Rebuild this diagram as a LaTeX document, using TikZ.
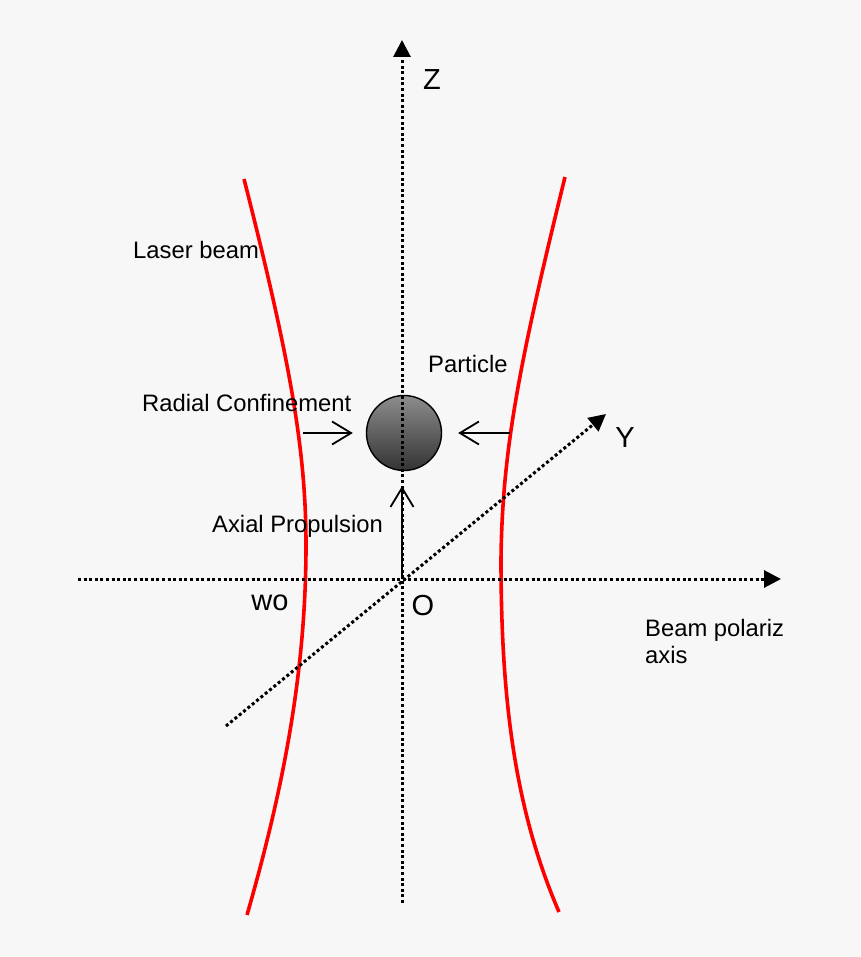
\documentclass[tikz,border=0pt]{standalone}
\usepackage{fontspec}
\setmainfont{Liberation Sans}
\usetikzlibrary{positioning,calc,arrows.meta}
\definecolor{bgcol}{HTML}{F7F7F7}
\definecolor{beamred}{HTML}{FF0000}

\begin{document}
\begin{tikzpicture}[
      x=1pt, y=-1pt,
      every node/.style={font=\fontsize{23.8}{27}\selectfont, inner sep=0pt},
      axislbl/.style={font=\fontsize{29}{32}\selectfont},
      axisline/.style={line width=3pt, dash pattern=on 3pt off 2.6pt,
        -{Triangle[length=17pt,width=17pt]}},
      beam/.style={beamred, line width=3.6pt},
      push/.style={line width=1.8pt, -{Straight Barb[length=19pt,width=23pt]}},
      ball/.style={draw, circle, line width=1.4pt, minimum size=75pt,
        top color=black!45, bottom color=black!80},
    ]
    \useasboundingbox[fill=bgcol] (0,0) rectangle (860,957);

    % the particle
    \node[ball] (part) at (404,433) {};

    % beam waist (two red branches)
    \draw[beam] (244,179) .. controls (290,360) and (306,450) .. (306,545)
      .. controls (306,680) and (280,800) .. (247,915);
    \draw[beam] (565,177) .. controls (520,360) and (502,450) .. (501,560)
      .. controls (501,700) and (515,810) .. (559,912);

    % axes
    \coordinate (O) at (402,579);
    \coordinate (zbot) at (402,903);
    \coordinate (ztop) at (402,40);
    \coordinate (xl) at (78,579);
    \coordinate (xr) at (781,579);
    \coordinate (yl) at (226,726);
    \coordinate (yr) at (606,414);
    \draw[axisline] (zbot) -- (ztop);
    \draw[axisline] (xl) -- (xr);
    \draw[axisline] (yl) -- (yr);

    % forces
    \coordinate (lf) at (303,433);
    \coordinate (rf) at (510,433);
    \draw[push] (lf) -- ([xshift=-13pt]part.west);
    \draw[push] (rf) -- ([xshift=16pt]part.east);
    \draw[push] (O) -- ($(O |- part.south)+(0,15)$);

    % labels
    \node[axislbl] (zl) at (432,80) {Z};
    \node[axislbl] (yll) at (625,438) {Y};
    \node[axislbl] (ol) at (423,606) {O};
    \node[axislbl] (wo) at (270,603) {wo};
    \node[anchor=west] (laser) at (133,250) {Laser beam};
    \node[anchor=west] (partl) at (428,364) {Particle};
    \node[anchor=west] (radl) at (142,403) {Radial Confinement};
    \node[anchor=west] (axl) at (212,526) {Axial Propulsion};
    \node[anchor=north west, align=left] (pol) at (645,619) {Beam polariz\\axis};
  \end{tikzpicture}
\end{document}
